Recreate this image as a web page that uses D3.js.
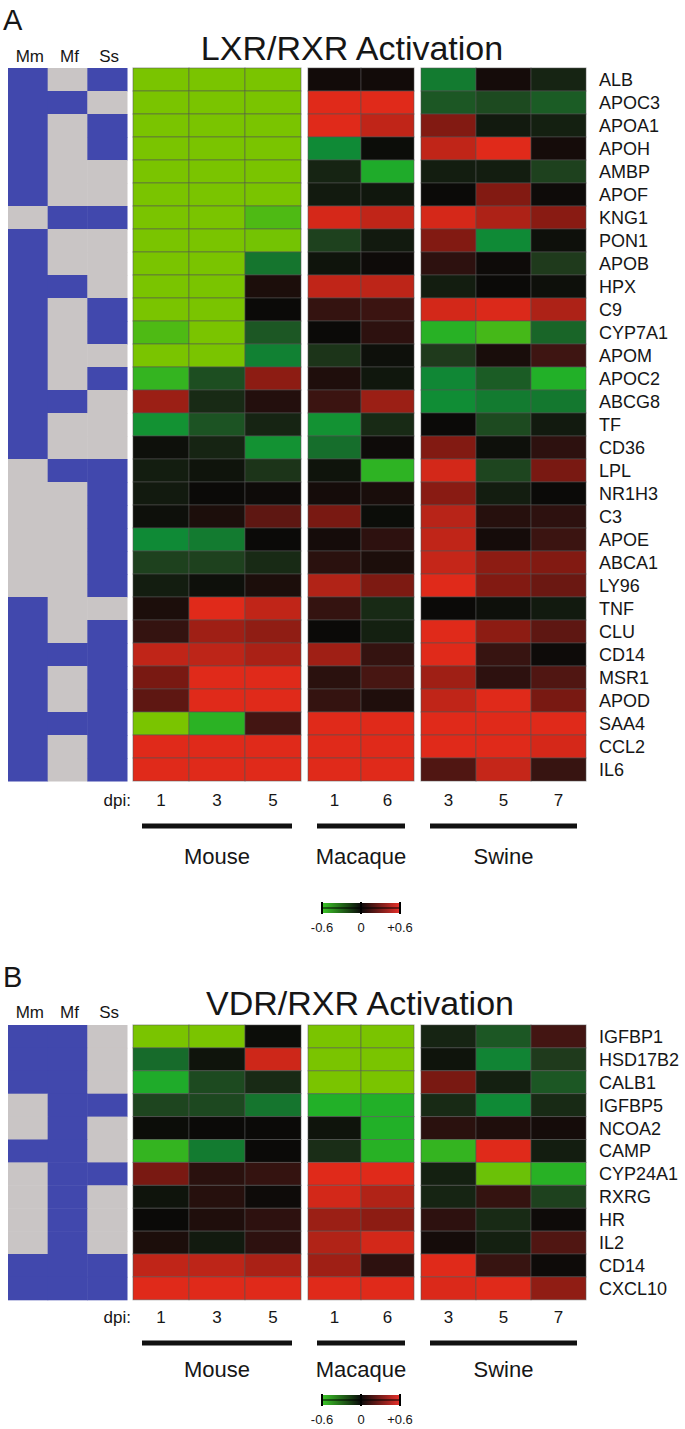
<!DOCTYPE html>
<html>
<head>
<meta charset="utf-8">
<script src="https://d3js.org/d3.v7.min.js"></script>
<style>
body { margin: 0; background: #fff; }
svg text { font-family: "Liberation Sans", Arial, Helvetica, sans-serif; fill: #161616; }
</style>
</head>
<body>
<svg id="fig" width="685" height="1429"></svg>
<script>
// ---- data ----
var species = ["Mouse", "Macaque", "Swine"];
var dpiMouse = [1, 3, 5];
var dpiMacaque = [1, 6];
var dpiSwine = [3, 5, 7];
var memberCols = ["Mm", "Mf", "Ss"];
var legendTicks = [-0.6, 0, 0.6];
var legendLabels = ["-0.6", "0", "+0.6"];

var lxrGenes = ["ALB", "APOC3", "APOA1", "APOH", "AMBP", "APOF", "KNG1", "PON1", "APOB", "HPX",
	"C9", "CYP7A1", "APOM", "APOC2", "ABCG8", "TF", "CD36", "LPL", "NR1H3", "C3", "APOE",
	"ABCA1", "LY96", "TNF", "CLU", "CD14", "MSR1", "APOD", "SAA4", "CCL2", "IL6"];

// membership Mm, Mf, Ss (1 = blue)
var lxrMember = [
	[1,0,1],[1,1,0],[1,0,1],[1,0,1],[1,0,0],[1,0,0],[0,1,1],[1,0,0],[1,0,0],[1,1,0],
	[1,0,1],[1,0,1],[1,0,0],[1,0,1],[1,1,0],[1,0,0],[1,0,0],[0,1,1],[0,0,1],[0,0,1],
	[0,0,1],[0,0,1],[0,0,1],[1,0,0],[1,0,1],[1,1,1],[1,0,1],[1,0,1],[1,1,1],[1,0,1],
	[1,0,1]];

// mouse 1,3,5 | macaque 1,6 | swine 3,5,7
var lxrValues = [
	[-0.9, -0.9, -0.9, 0.02, 0.02, -0.4, 0.03, -0.08],
	[-0.9, -0.9, -0.9, 0.6, 0.6, -0.28, -0.22, -0.3],
	[-0.9, -0.9, -0.9, 0.6, 0.48, 0.3, -0.05, -0.07],
	[-0.9, -0.9, -0.9, -0.45, -0.01, 0.48, 0.6, 0.03],
	[-0.9, -0.9, -0.9, -0.08, -0.58, -0.06, -0.06, -0.18],
	[-0.9, -0.9, -0.9, -0.05, -0.04, 0.0, 0.3, 0.01],
	[-0.9, -0.9, -0.75, 0.56, 0.48, 0.56, 0.42, 0.32],
	[-0.9, -0.9, -0.88, -0.18, -0.05, 0.3, -0.45, -0.02],
	[-0.9, -0.9, -0.38, -0.03, 0.01, 0.1, 0.01, -0.15],
	[-0.9, -0.9, 0.05, 0.48, 0.47, -0.06, 0.0, -0.02],
	[-0.9, -0.9, 0.0, 0.12, 0.14, 0.55, 0.58, 0.42],
	[-0.75, -0.9, -0.28, 0.0, 0.1, -0.62, -0.72, -0.33],
	[-0.9, -0.9, -0.42, -0.13, -0.02, -0.15, 0.04, 0.15],
	[-0.66, -0.24, 0.33, 0.06, -0.04, -0.44, -0.3, -0.6],
	[0.37, -0.1, 0.07, 0.14, 0.37, -0.46, -0.4, -0.39],
	[-0.48, -0.26, -0.08, -0.48, -0.1, 0.0, -0.22, -0.05],
	[-0.02, -0.08, -0.48, -0.36, 0.01, 0.3, -0.02, 0.1],
	[-0.06, -0.03, -0.13, -0.03, -0.64, 0.55, -0.2, 0.28],
	[-0.05, 0.0, 0.01, 0.03, 0.04, 0.32, -0.06, 0.0],
	[-0.02, 0.05, 0.22, 0.28, -0.01, 0.45, 0.08, 0.1],
	[-0.45, -0.4, 0.0, 0.03, 0.1, 0.48, 0.03, 0.14],
	[-0.18, -0.18, -0.1, 0.09, 0.05, 0.5, 0.33, 0.3],
	[-0.06, -0.02, 0.05, 0.43, 0.29, 0.6, 0.3, 0.25],
	[0.05, 0.6, 0.48, 0.12, -0.1, 0.0, -0.02, -0.05],
	[0.12, 0.38, 0.34, 0.0, -0.07, 0.6, 0.33, 0.22],
	[0.48, 0.47, 0.41, 0.38, 0.12, 0.6, 0.13, 0.01],
	[0.28, 0.6, 0.6, 0.09, 0.17, 0.38, 0.1, 0.19],
	[0.22, 0.6, 0.6, 0.12, 0.06, 0.48, 0.6, 0.28],
	[-0.9, -0.63, 0.16, 0.6, 0.6, 0.6, 0.6, 0.6],
	[0.6, 0.6, 0.6, 0.6, 0.6, 0.6, 0.6, 0.56],
	[0.6, 0.6, 0.6, 0.6, 0.6, 0.19, 0.5, 0.13]];

var vdrGenes = ["IGFBP1", "HSD17B2", "CALB1", "IGFBP5", "NCOA2", "CAMP", "CYP24A1", "RXRG",
	"HR", "IL2", "CD14", "CXCL10"];

var vdrMember = [
	[1,1,0],[1,1,0],[1,1,0],[0,1,1],[0,1,0],[1,1,0],[0,1,1],[0,1,0],[0,1,0],[0,1,0],
	[1,1,1],[1,1,1]];

var vdrValues = [
	[-0.9, -0.9, -0.01, -0.9, -0.9, -0.08, -0.28, 0.16],
	[-0.35, -0.03, 0.53, -0.9, -0.9, -0.03, -0.43, -0.15],
	[-0.58, -0.22, -0.1, -0.9, -0.9, 0.28, -0.07, -0.28],
	[-0.2, -0.21, -0.38, -0.6, -0.6, -0.1, -0.45, -0.1],
	[-0.01, 0.0, 0.0, -0.03, -0.6, 0.09, 0.06, 0.03],
	[-0.66, -0.4, 0.0, -0.11, -0.62, -0.66, 0.6, -0.06],
	[0.28, 0.09, 0.12, 0.6, 0.6, -0.07, -0.85, -0.62],
	[-0.03, 0.08, 0.01, 0.55, 0.43, -0.08, 0.12, -0.18],
	[0.0, 0.06, 0.1, 0.37, 0.33, 0.1, -0.1, 0.01],
	[0.05, -0.05, 0.1, 0.43, 0.55, 0.03, -0.07, 0.19],
	[0.48, 0.47, 0.41, 0.38, 0.1, 0.6, 0.13, 0.01],
	[0.6, 0.6, 0.6, 0.6, 0.6, 0.58, 0.6, 0.34]];

// ---- drawing ----
var svg = d3.select("#fig");

var color = d3.scaleLinear()
	.domain([-0.9, -0.6, -0.45, -0.3, -0.15, 0, 0.15, 0.3, 0.45, 0.6])
	.range(["#7ac400", "#22b028", "#0f8a36", "#1b5c25", "#1f3a1c", "#0b0a08",
		"#3e1512", "#821a12", "#b82418", "#e02a1a"])
	.clamp(true);

var BLUE = "#4148ad", GRAY = "#c9c5c5";

// the three species blocks, each with its own band scale
var groups = [
	{name: species[0], dpi: dpiMouse, x0: 133, x1: 301, offset: 0},
	{name: species[1], dpi: dpiMacaque, x0: 308, x1: 414, offset: 3},
	{name: species[2], dpi: dpiSwine, x0: 421, x1: 586, offset: 5}
];
groups.forEach(function(g){
	g.x = d3.scaleBand().domain(g.dpi).range([g.x0, g.x1]);
});

var memberX = d3.scaleBand().domain(memberCols).range([8, 127]);

var defs = svg.append("defs");
var grad = defs.append("linearGradient").attr("id", "legendGrad");
grad.append("stop").attr("offset", "0%").attr("stop-color", "#3cc828");
grad.append("stop").attr("offset", "50%").attr("stop-color", "#0a0a0a");
grad.append("stop").attr("offset", "100%").attr("stop-color", "#e8302a");

function drawPanel(p)
{
	var g = svg.append("g");
	var y = d3.scaleBand().domain(p.genes).range([p.top, p.top + p.genes.length * p.rowH]);

	g.append("text").attr("x", 3).attr("y", p.letterY)
		.style("font-size", "29px").text(p.letter);

	g.append("text").attr("x", p.titleX).attr("y", p.titleY)
		.attr("text-anchor", "middle")
		.style("font-size", "34px").text(p.title);

	// membership grid
	g.selectAll(".mhead").data(memberCols).enter().append("text")
		.attr("x", function(d){ return memberX(d) + memberX.bandwidth() / 2 + 2; })
		.attr("y", p.headY)
		.attr("text-anchor", "middle")
		.style("font-size", "17px")
		.text(function(d){ return d; });

	var mrows = g.selectAll(".mrow").data(p.member).enter().append("g")
		.attr("transform", function(d, i){ return "translate(0," + y(p.genes[i]) + ")"; });
	mrows.selectAll("rect").data(function(d){ return d; }).enter().append("rect")
		.attr("x", function(d, j){ return memberX(memberCols[j]); })
		.attr("y", 0)
		.attr("width", memberX.bandwidth() + 0.5)
		.attr("height", y.bandwidth() + 0.5)
		.attr("fill", function(d){ return d ? BLUE : GRAY; });

	// heat cells
	groups.forEach(function(grp){
		var rows = g.selectAll(null).data(p.values).enter().append("g")
			.attr("transform", function(d, i){ return "translate(0," + y(p.genes[i]) + ")"; });
		rows.selectAll("rect")
			.data(function(d){ return d.slice(grp.offset, grp.offset + grp.dpi.length); })
			.enter().append("rect")
			.attr("x", function(d, j){ return grp.x(grp.dpi[j]); })
			.attr("y", 0)
			.attr("width", grp.x.bandwidth())
			.attr("height", y.bandwidth())
			.attr("fill", function(d){ return color(d); })
			.attr("stroke", "rgba(85,85,85,0.55)")
			.attr("stroke-width", 1);

		g.selectAll(null).data(grp.dpi).enter().append("text")
			.attr("x", function(d){ return grp.x(d) + grp.x.bandwidth() / 2; })
			.attr("y", p.dpiY)
			.attr("text-anchor", "middle")
			.style("font-size", "17px")
			.text(function(d){ return d; });

		g.append("line")
			.attr("x1", grp.x0 + 9).attr("x2", grp.x1 - 9)
			.attr("y1", p.barY).attr("y2", p.barY)
			.attr("stroke", "#111").attr("stroke-width", 5);

		g.append("text")
			.attr("x", (grp.x0 + grp.x1) / 2)
			.attr("y", p.speciesY)
			.attr("text-anchor", "middle")
			.style("font-size", "22px")
			.text(grp.name);
	});

	g.append("text").attr("x", 131).attr("y", p.dpiY)
		.attr("text-anchor", "end").style("font-size", "17px").text("dpi:");

	// gene names
	g.selectAll(".gene").data(p.genes).enter().append("text")
		.attr("x", 599)
		.attr("y", function(d){ return y(d) + y.bandwidth() / 2; })
		.attr("dy", "0.36em")
		.style("font-size", "18px")
		.text(function(d){ return d; });

	// colour key
	var lx = d3.scaleLinear().domain([-0.6, 0.6]).range([322, 400]);
	var lg = g.append("g");
	lg.append("rect")
		.attr("x", lx(-0.6)).attr("y", p.legendY)
		.attr("width", lx(0.6) - lx(-0.6)).attr("height", 10)
		.attr("fill", "url(#legendGrad)");
	lg.append("line")
		.attr("x1", lx(-0.6)).attr("x2", lx(0.6))
		.attr("y1", p.legendY + 5).attr("y2", p.legendY + 5)
		.attr("stroke", "#000").attr("stroke-width", 1.2);
	lg.selectAll(".tk").data(legendTicks).enter().append("line")
		.attr("x1", function(d){ return lx(d); }).attr("x2", function(d){ return lx(d); })
		.attr("y1", p.legendY - 1).attr("y2", p.legendY + 11)
		.attr("stroke", "#000").attr("stroke-width", 2);
	lg.selectAll(".tl").data(legendTicks).enter().append("text")
		.attr("x", function(d){ return lx(d); })
		.attr("y", p.legendY + 29)
		.attr("text-anchor", "middle")
		.style("font-size", "13px")
		.text(function(d, i){ return legendLabels[i]; });
}

drawPanel({
	letter: "A", title: "LXR/RXR Activation", titleX: 352,
	genes: lxrGenes, member: lxrMember, values: lxrValues,
	letterY: 30, titleY: 60, headY: 62, top: 68, rowH: 23,
	dpiY: 806, barY: 826, speciesY: 864, legendY: 903
});

drawPanel({
	letter: "B", title: "VDR/RXR Activation", titleX: 360,
	genes: vdrGenes, member: vdrMember, values: vdrValues,
	letterY: 987, titleY: 1015, headY: 1018, top: 1025, rowH: 22.9,
	dpiY: 1323, barY: 1343, speciesY: 1377, legendY: 1395
});
</script>
</body>
</html>
